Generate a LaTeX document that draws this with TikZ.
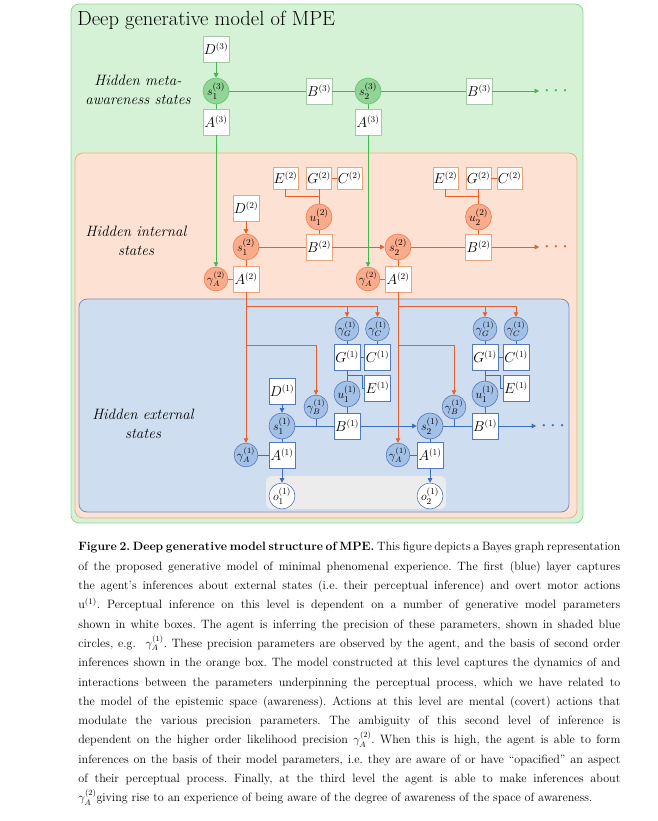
\documentclass[tikz,border=0pt]{standalone}
\usepackage{fontspec}
\usepackage{amsmath}
\usetikzlibrary{arrows.meta,positioning,calc}
\definecolor{mGreenBg}{RGB}{213,242,215}
\definecolor{mGreenEdge}{RGB}{150,215,150}
\definecolor{mGreenLine}{RGB}{65,185,75}
\definecolor{mGreenNode}{RGB}{145,212,150}
\definecolor{mGreenRim}{RGB}{105,192,115}
\definecolor{mGreenBox}{RGB}{165,200,165}
\definecolor{mOrangeBg}{RGB}{253,225,211}
\definecolor{mOrangeEdge}{RGB}{240,175,130}
\definecolor{mOrangeLine}{RGB}{232,95,45}
\definecolor{mOrangeNode}{RGB}{249,172,140}
\definecolor{mOrangeRim}{RGB}{238,125,85}
\definecolor{mOrangeBox}{RGB}{235,165,125}
\definecolor{mBlueBg}{RGB}{206,221,240}
\definecolor{mBlueEdge}{RGB}{120,145,195}
\definecolor{mBlueLine}{RGB}{60,110,190}
\definecolor{mBlueNode}{RGB}{163,192,230}
\definecolor{mBlueRim}{RGB}{85,120,185}
\definecolor{mObs}{RGB}{236,236,236}

\begin{document}
\begin{tikzpicture}[x=1pt, y=-1pt, >={Triangle[length=4.5pt,width=4.5pt]}, line width=0.8pt,
    pbox/.style={draw=#1, fill=white, line width=0.6pt, minimum width=26pt, minimum height=26pt,
      inner sep=0pt, font=\fontsize{13.5}{15}\selectfont},
    stnode/.style 2 args={circle, draw=#1, fill=#2, line width=0.6pt, minimum size=26pt,
      inner sep=0pt, font=\fontsize{13}{15}\selectfont},
    box3/.style={pbox=mGreenBox}, box2/.style={pbox=mOrangeBox}, box1/.style={pbox=mBlueRim},
    tbox2/.style={box2, minimum width=25pt, minimum height=22pt},
    state3/.style={stnode={mGreenRim}{mGreenNode}},
    state2/.style={stnode={mOrangeRim}{mOrangeNode}},
    state1/.style={stnode={mBlueRim}{mBlueNode}},
    prec2/.style={state2, minimum size=23pt, font=\fontsize{11.5}{13}\selectfont},
    prec1/.style={state1, minimum size=23pt, font=\fontsize{11.5}{13}\selectfont},
    obsnode/.style={stnode={mBlueRim}{white}},
    moredots/.style={inner sep=1pt, font=\fontsize{8}{8}\selectfont},
    layerlabel/.style={align=center, font=\fontsize{15}{19}\selectfont\itshape}]
  \useasboundingbox (0,0) rectangle (657,821);
  \draw[fill=mGreenBg, draw=mGreenEdge, rounded corners=8pt] (71,4) rectangle (583,523);
  \draw[fill=mOrangeBg, draw=mOrangeEdge, rounded corners=8pt] (75,153) rectangle (577,518);
  \draw[fill=mBlueBg, draw=mBlueEdge, rounded corners=8pt] (79,299) rectangle (569,512);
  \fill[mObs, rounded corners=6pt] (266,476) rectangle (446,509);

  \node[anchor=west, inner sep=0pt, font=\fontsize{20.5}{24}\selectfont] (title) at (77,20) {Deep generative model of MPE};
  \node[layerlabel] (lab3) at (138,90) {Hidden meta-\\awareness states};
  \node[layerlabel] (lab2) at (136,241) {Hidden internal\\states};
  \node[layerlabel] (lab1) at (143,424) {Hidden external\\states};

  % level 3
  \node[box3] (D3) at (216,49) {$D^{(3)}$};
  \node[state3] (s31) at (216,91) {$s_1^{(3)}$};
  \node[box3] (A31) at (216,122) {$A^{(3)}$};
  \node[box3] (B31) at (319,91) {$B^{(3)}$};
  \node[state3] (s32) at (368,91) {$s_2^{(3)}$};
  \node[box3] (A32) at (368,122) {$A^{(3)}$};
  \node[box3] (B32) at (479,91) {$B^{(3)}$};
  \node[moredots, text=mGreenLine] (dots3) at (556,91) {\textbullet\hspace{2.5pt}\textbullet\hspace{2.5pt}\textbullet};

  % level 2
  \node[tbox2] (E21) at (285.5,178) {$E^{(2)}$};
  \node[tbox2] (G21) at (319,178) {$G^{(2)}$};
  \node[tbox2] (C21) at (349.5,178) {$C^{(2)}$};
  \node[state2] (u21) at (319,217) {$u_1^{(2)}$};
  \node[box2] (D21) at (246,208) {$D^{(2)}$};
  \node[state2] (s21) at (246,247) {$s_1^{(2)}$};
  \node[box2] (B21) at (319,247) {$B^{(2)}$};
  \node[state2] (s22) at (398,247) {$s_2^{(2)}$};
  \node[tbox2] (E22) at (445.5,178) {$E^{(2)}$};
  \node[tbox2] (G22) at (478.5,178) {$G^{(2)}$};
  \node[tbox2] (C22) at (509.5,178) {$C^{(2)}$};
  \node[state2] (u22) at (478.5,217) {$u_2^{(2)}$};
  \node[box2] (B22) at (478.5,247) {$B^{(2)}$};
  \node[moredots, text=mOrangeLine] (dots2) at (556,247) {\textbullet\hspace{2.5pt}\textbullet\hspace{2.5pt}\textbullet};
  \node[prec2] (gA21) at (216,279) {$\gamma_A^{(2)}$};
  \node[box2] (A21) at (246,279) {$A^{(2)}$};
  \node[prec2] (gA22) at (368,279) {$\gamma_A^{(2)}$};
  \node[box2] (A22) at (398,279) {$A^{(2)}$};

  % level 1
  \node[prec1] (gG1) at (347,329) {$\gamma_G^{(1)}$};
  \node[prec1] (gC1) at (377.5,329) {$\gamma_C^{(1)}$};
  \node[box1] (G11) at (347,357) {$G^{(1)}$};
  \node[box1] (C11) at (377.5,357) {$C^{(1)}$};
  \node[box1] (E11) at (377.5,388) {$E^{(1)}$};
  \node[state1] (u11) at (347,394) {$u_1^{(1)}$};
  \node[box1] (B11) at (347,426) {$B^{(1)}$};
  \node[box1] (D11) at (282,391) {$D^{(1)}$};
  \node[state1] (s11) at (282,426) {$s_1^{(1)}$};
  \node[prec1] (gB1) at (316,407) {$\gamma_B^{(1)}$};
  \node[box1] (A11) at (282,455) {$A^{(1)}$};
  \node[prec1] (gA11) at (246,455) {$\gamma_A^{(1)}$};
  \node[obsnode] (o11) at (282,496) {$o_1^{(1)}$};
  \node[prec1] (gG2) at (485,329) {$\gamma_G^{(1)}$};
  \node[prec1] (gC2) at (516,329) {$\gamma_C^{(1)}$};
  \node[box1] (G12) at (485,357) {$G^{(1)}$};
  \node[box1] (C12) at (516,357) {$C^{(1)}$};
  \node[box1] (E12) at (516,388) {$E^{(1)}$};
  \node[state1] (u12) at (485,394) {$u_1^{(1)}$};
  \node[box1] (B12) at (485,426) {$B^{(1)}$};
  \node[state1] (s12) at (430,426) {$s_2^{(1)}$};
  \node[prec1] (gB2) at (454,407) {$\gamma_B^{(1)}$};
  \node[box1] (A12) at (430,455) {$A^{(1)}$};
  \node[prec1] (gA12) at (398,455) {$\gamma_A^{(1)}$};
  \node[obsnode] (o12) at (430,496) {$o_2^{(1)}$};
  \node[moredots, text=mBlueLine] (dots1) at (553,426) {\textbullet\hspace{2.5pt}\textbullet\hspace{2.5pt}\textbullet};

  \begin{scope}[mGreenLine]
    \draw[->] (D3) -- (s31);
    \draw (s31) -- (B31) -- (s32) -- (B32);
    \draw[->, shorten >=3pt] (B32) -- (dots3);
    \draw (s31) -- (A31) (s32) -- (A32);
    \draw[->] (A31) -- (gA21);
    \draw[->] (A32) -- (gA22);
  \end{scope}

  \begin{scope}[mOrangeLine]
    \draw[->] (D21) -- (s21);
    \draw (s21) -- (B21);
    \draw[->] (B21) -- (s22);
    \draw (s22) -- (B22);
    \draw[->, shorten >=3pt] (B22) -- (dots2);
    \draw (G21) -- (C21) (G21) -- (u21) -- (B21) (E21) |- ($(G21.south)!0.5!(u21.north)$);
    \draw (G22) -- (C22) (G22) -- (u22) -- (B22) (E22) |- ($(G22.south)!0.5!(u22.north)$);
    \draw (s21) -- (A21) -- (gA21) (s22) -- (A22) -- (gA22);
    \coordinate (k1) at (246,306);
    \coordinate (k2) at (246,345);
    \coordinate (k3) at (398,306);
    \coordinate (k4) at (398,345);
    \draw[->] (A21) -- (gA11);
    \draw[->] (k1) -| (gG1);
    \draw[->] (k1) -| (gC1);
    \draw[->] (k2) -| (gB1);
    \draw[->] (A22) -- (gA12);
    \draw[->] (k3) -| (gG2);
    \draw[->] (k3) -| (gC2);
    \draw[->] (k4) -| (gB2);
  \end{scope}

  \begin{scope}[mBlueLine]
    \draw (gG1) -- (G11) (gC1) -- (C11) (G11) -- (C11) (G11) -- (u11) -- (B11);
    \draw ($(G11.south)!0.5!(u11.north)$) -| ([xshift=-2pt]E11.west) -- (E11.west);
    \draw[->] (D11) -- (s11);
    \draw (s11) -- (B11);
    \draw[->] (B11) -- (s12);
    \draw (gB1) -- (gB1 |- s11);
    \draw (s11) -- (A11) -- (gA11);
    \draw[->] (A11) -- (o11);
    \draw (gG2) -- (G12) (gC2) -- (C12) (G12) -- (C12) (G12) -- (u12) -- (B12);
    \draw ($(G12.south)!0.5!(u12.north)$) -| ([xshift=-2pt]E12.west) -- (E12.west);
    \draw (s12) -- (B12);
    \draw[->, shorten >=3pt] (B12) -- (dots1);
    \draw (gB2) -- (gB2 |- s12);
    \draw (s12) -- (A12) -- (gA12);
    \draw[->] (A12) -- (o12);
  \end{scope}

  \node[anchor=north west, inner sep=0pt, text width=542pt, align=justify,
    font=\fontsize{12.1}{19.3}\selectfont] (caption) at (78,542) {\tolerance=10000 \frenchspacing
    \spaceskip=0.32em plus 0.4em minus 0.2em \hyphenpenalty=10000
    \textbf{Figure 2. Deep generative model structure of MPE.} This figure depicts a Bayes graph representation\linebreak
    of the proposed generative model of minimal phenomenal experience. The first (blue) layer captures\linebreak
    the agent’s inferences about external states (i.e. their perceptual inference) and overt motor actions\linebreak
    u\textsuperscript{(1)}. Perceptual inference on this level is dependent on a number of generative model parameters\linebreak
    shown in white boxes. The agent is inferring the precision of these parameters, shown in shaded blue\linebreak
    circles, e.g.\ \ $\gamma_A^{(1)}$. These precision parameters are observed by the agent, and the basis of second order\linebreak
    inferences shown in the orange box. The model constructed at this level captures the dynamics of and\linebreak
    interactions between the parameters underpinning the perceptual process, which we have related to\linebreak
    the model of the epistemic space (awareness). Actions at this level are mental (covert) actions that\linebreak
    modulate the various precision parameters. The ambiguity of this second level of inference is\linebreak
    dependent on the higher order likelihood precision $\gamma_A^{(2)}$. When this is high, the agent is able to form\linebreak
    inferences on the basis of their model parameters, i.e. they are aware of or have “opacified” an aspect\linebreak
    of their perceptual process. Finally, at the third level the agent is able to make inferences about\linebreak
    $\gamma_A^{(2)}$giving rise to an experience of being aware of the degree of awareness of the space of awareness.};
\end{tikzpicture}
\end{document}
